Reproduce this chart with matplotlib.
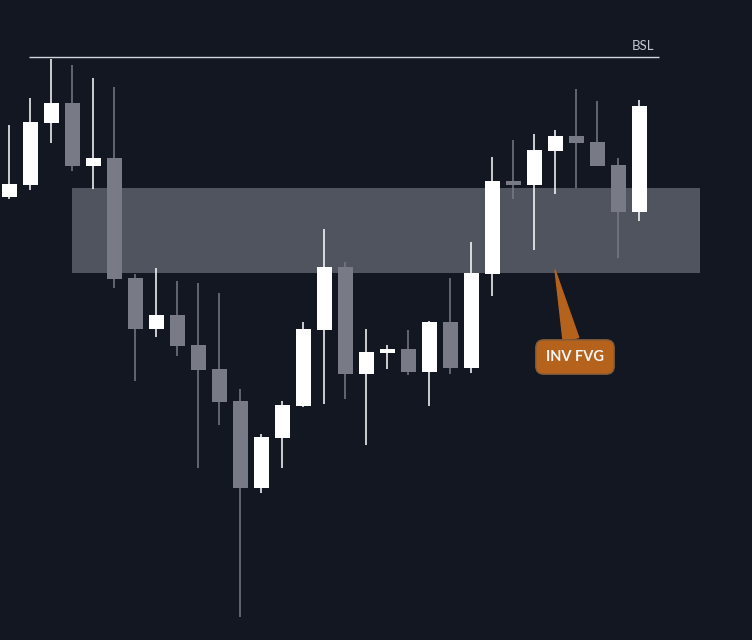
import matplotlib.pyplot as plt
from matplotlib.patches import Rectangle

# candle data (arbitrary price units)
opens = [443, 455, 517, 537, 474, 482, 362, 311, 325, 295, 271, 239, 152, 202, 234, 310,
         373, 266, 287, 291, 268, 318, 272, 366, 459, 455, 489, 504, 498, 475, 428]
highs = [515, 542, 581, 575, 562, 553, 366, 372, 359, 357, 347, 251, 206, 239, 318, 411,
         378, 311, 295, 310, 319, 362, 398, 483, 500, 506, 510, 551, 539, 482, 540]
lows = [441, 450, 497, 469, 451, 352, 259, 303, 284, 172, 215, 23, 147, 172, 233, 236,
        241, 195, 271, 265, 234, 266, 267, 344, 441, 390, 446, 452, 474, 382, 419]
closes = [456, 518, 537, 474, 482, 361, 311, 325, 294, 270, 238, 152, 203, 235, 311, 373,
          266, 288, 291, 268, 318, 272, 367, 459, 455, 490, 504, 497, 474, 428, 534]

# zone and levels
fvg_start, fvg_end = 3.0, 32.9
fvg_low, fvg_high = 367, 452
bsl_level = 583
bsl_start, bsl_end = 0.94, 30.94

BG = "#131722"
BULL = "#ffffff"
BEAR = "#787b86"
ZONE = "#50545f"
ORANGE = "#b5621d"

fig = plt.figure(figsize=(7.52, 6.4), dpi=100, facecolor=BG)
ax = fig.add_axes([0, 0, 1, 1])
ax.set_facecolor(BG)

ax.add_patch(Rectangle((fvg_start, fvg_low), fvg_end - fvg_start, fvg_high - fvg_low,
                       facecolor=ZONE, edgecolor="none", zorder=1))

w = 0.72
for i, (o, h, l, c) in enumerate(zip(opens, highs, lows, closes)):
    col = BULL if c >= o else BEAR
    ax.vlines(i, l, h, color=col, linewidth=1.1, zorder=2)
    ax.add_patch(Rectangle((i - w / 2, min(o, c)), w, max(abs(c - o), 1.5),
                           facecolor=col, edgecolor="none", zorder=3))

ax.hlines(bsl_level, bsl_start, bsl_end, color="#d1d4dc", linewidth=1.0, zorder=2)
ax.text(30.2, bsl_level + 5, "BSL", color="#c3c6ce", fontsize=9.5, family="Lato",
        ha="center", va="bottom")

ax.annotate("INV FVG", xy=(25.99, 370), xytext=(26.94, 283),
            color="#f5f5f5", fontsize=10.5, fontweight="bold", family="Lato",
            ha="center", va="center", zorder=5,
            bbox=dict(boxstyle="round,pad=0.7,rounding_size=0.55", fc=ORANGE,
                      ec="#7d5a3c", lw=1),
            arrowprops=dict(arrowstyle="wedge,tail_width=1.1,shrink_factor=0.5",
                            fc=ORANGE, ec=ORANGE, shrinkA=0, shrinkB=0))

ax.set_xlim(-0.443, 35.37)
ax.set_ylim(0, 640)
ax.axis("off")

plt.savefig("out.png", dpi=100, facecolor=BG)
plt.close()
